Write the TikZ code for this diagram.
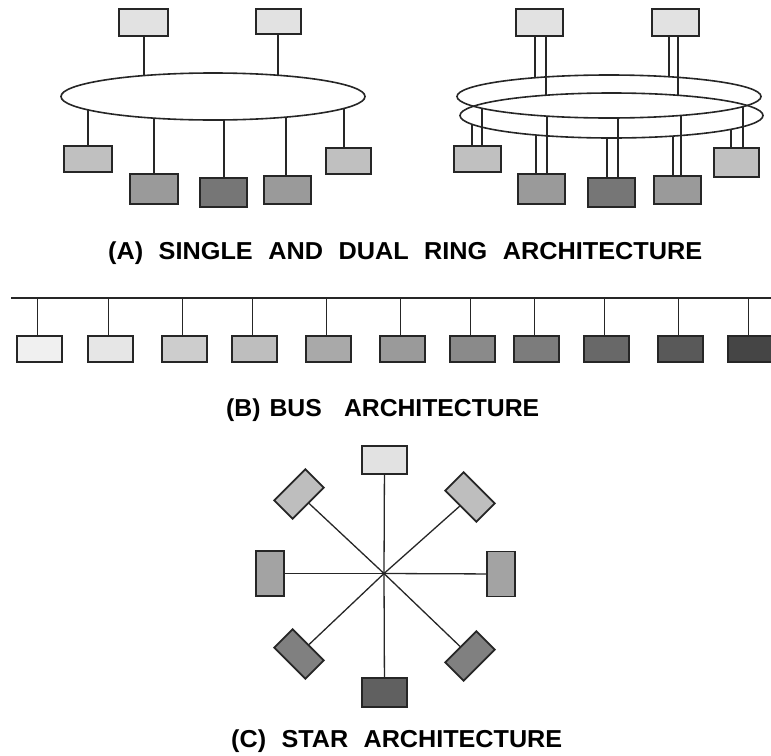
\documentclass[tikz,border=0pt]{standalone}
\usepackage{fontspec}
\setmainfont{Liberation Sans}
\usetikzlibrary{shapes.geometric}
\newcommand{\onring}[6]{\coordinate (#1) at ({#2},{#3+(#4)*sqrt(1-((#2-#5)/(#6))^2)});}
\begin{document}
\begin{tikzpicture}[x=1pt,y=-1pt,
  box/.style={draw=black!85,line width=1.8pt,rectangle,inner sep=0pt,minimum width=47pt,minimum height=27pt},
  wire/.style={draw=black!85,line width=1.6pt},
  ringshape/.style={draw=black!85,line width=1.6pt,ellipse,inner sep=0pt},
  title/.style={inner sep=0pt,anchor=base west,font=\fontsize{24.5}{28}\selectfont\bfseries}]
\useasboundingbox (0,0) rectangle (771,755);
\definecolor{g1}{HTML}{E2E2E2}
\definecolor{g2}{HTML}{C0C0C0}
\definecolor{g3}{HTML}{9A9A9A}
\definecolor{g4}{HTML}{767676}
% ---------- single ring ----------
\node[ringshape,minimum width=304pt,minimum height=47pt] (ringA) at (213,96.5) {};
\node[box,fill=g1,minimum width=49pt,minimum height=27pt] (t1) at (143.5,22.5) {};
\node[box,fill=g1,minimum width=45pt,minimum height=25pt] (t2) at (278.5,21.5) {};
\node[box,fill=g2,minimum width=48pt,minimum height=26pt] (a1) at (88,159) {};
\node[box,fill=g3,minimum width=48pt,minimum height=30pt] (a2) at (154,189) {};
\node[box,fill=g4,minimum width=47pt,minimum height=29pt] (a3) at (223.5,192.5) {};
\node[box,fill=g3,minimum width=47pt,minimum height=28pt] (a4) at (287.5,190) {};
\node[box,fill=g2,minimum width=45pt,minimum height=26pt] (a5) at (348.5,161) {};
\onring{rt1}{144}{96.5}{-23.5}{213}{152}
\onring{rt2}{278}{96.5}{-23.5}{213}{152}
\onring{ra1}{88}{96.5}{23.5}{213}{152}
\onring{ra2}{154}{96.5}{23.5}{213}{152}
\onring{ra3}{224}{96.5}{23.5}{213}{152}
\onring{ra4}{286}{96.5}{23.5}{213}{152}
\onring{ra5}{344}{96.5}{23.5}{213}{152}
\draw[wire] (t1.south -| rt1) -- (rt1);
\draw[wire] (t2.south -| rt2) -- (rt2);
\foreach \i in {1,...,5} {\draw[wire] (ra\i) -- (a\i.north -| ra\i);}
% ---------- dual ring ----------
\node[ringshape,minimum width=304pt,minimum height=43pt] (ringU) at (609,96.5) {};
\node[ringshape,minimum width=303pt,minimum height=45pt] (ringL) at (611.5,115.5) {};
\node[box,fill=g1] (u1) at (539.5,22.5) {};
\node[box,fill=g1] (u2) at (675.5,22.5) {};
\node[box,fill=g2,minimum height=26pt] (c1) at (477.5,159) {};
\node[box,fill=g3,minimum height=30pt] (c2) at (541.5,189) {};
\node[box,fill=g4,minimum height=29pt] (c3) at (611.5,192.5) {};
\node[box,fill=g3,minimum height=28pt] (c4) at (677.5,190) {};
\node[box,fill=g2,minimum width=45pt,minimum height=29pt] (c5) at (736.5,162.5) {};
\onring{pu1a}{535}{96.5}{-21.5}{609}{152}
\onring{pu1b}{546}{115.5}{-22.5}{611.5}{151.5}
\onring{pu2a}{669}{96.5}{-21.5}{609}{152}
\onring{pu2b}{678}{115.5}{-22.5}{611.5}{151.5}
\onring{pc1a}{472}{115.5}{22.5}{611.5}{151.5}
\onring{pc1b}{482}{96.5}{21.5}{609}{152}
\onring{pc2a}{536}{115.5}{22.5}{611.5}{151.5}
\onring{pc2b}{547}{96.5}{21.5}{609}{152}
\onring{pc3a}{607}{115.5}{22.5}{611.5}{151.5}
\onring{pc3b}{618}{96.5}{21.5}{609}{152}
\onring{pc4a}{673}{115.5}{22.5}{611.5}{151.5}
\onring{pc4b}{681}{96.5}{21.5}{609}{152}
\onring{pc5a}{731}{115.5}{22.5}{611.5}{151.5}
\onring{pc5b}{743}{96.5}{21.5}{609}{152}
\foreach \i in {1,2} {
  \draw[wire] (u\i.south -| pu\i a) -- (pu\i a);
  \draw[wire] (u\i.south -| pu\i b) -- (pu\i b);}
\foreach \i in {1,...,5} {
  \draw[wire] (pc\i a) -- (c\i.north -| pc\i a);
  \draw[wire] (pc\i b) -- (c\i.north -| pc\i b);}
\node[title] (titleA) at (108,259) {\resizebox{594pt}{\height}{(A)\hspace{15pt}SINGLE\hspace{15pt}AND\hspace{15pt}DUAL\hspace{15pt}RING\hspace{15pt}ARCHITECTURE}};
% ---------- bus ----------
\coordinate (busL) at (11,298);
\coordinate (busR) at (771,298);
\draw[wire] (busL) -- (busR);
\foreach \i/\xl/\col in {1/17/F0F0F0,2/88/E6E6E6,3/162/CDCDCD,4/232/BEBEBE,5/306/A9A9A9,6/380/9A9A9A,7/450/8A8A8A,8/514/7C7C7C,9/584/686868,10/658/595959,11/728/454545} {
  \definecolor{bc}{HTML}{\col}
  \node[box,fill=bc,minimum width=45pt,minimum height=26pt] (bus\i) at (\xl+22.5,349) {};
  \draw[wire] ([xshift=-2pt]bus\i.north) -- ([xshift=-2pt]bus\i.north |- busL);
}
\node[title] (titleB) at (226,416) {\resizebox{313pt}{\height}{(B)\hspace{9pt}BUS\hspace{22pt}ARCHITECTURE}};
% ---------- star ----------
\definecolor{s1}{HTML}{E2E2E2}
\definecolor{s2}{HTML}{BEBEBE}
\definecolor{s3}{HTML}{A3A3A3}
\definecolor{s4}{HTML}{808080}
\definecolor{s5}{HTML}{606060}
\coordinate (hub) at (384,573.5);
\node[box,fill=s1,minimum width=45pt,minimum height=28pt] (stop) at (384.5,460) {};
\node[box,fill=s5,minimum width=45pt,minimum height=29pt] (sbot) at (384.5,692.5) {};
\node[box,fill=s3,minimum width=45pt,minimum height=28pt,rotate=90] (sleft) at (270,573.5) {};
\node[box,fill=s3,minimum width=45pt,minimum height=28pt,rotate=90] (sright) at (501,574) {};
\node[box,fill=s2,minimum width=44pt,minimum height=26pt,rotate=45] (sul) at (299,494) {};
\node[box,fill=s2,minimum width=44pt,minimum height=26pt,rotate=-45] (sur) at (470,497) {};
\node[box,fill=s4,minimum width=44pt,minimum height=26pt,rotate=-45] (sll) at (299,654) {};
\node[box,fill=s4,minimum width=44pt,minimum height=26pt,rotate=45] (slr) at (470,656) {};
\foreach \n in {stop,sbot,sleft,sright,sul,sur,sll,slr} {\draw[wire,line width=1.3pt] (hub) -- (\n);}
\node[title] (titleC) at (231,747) {\resizebox{331pt}{\height}{(C)\hspace{15pt}STAR\hspace{15pt}ARCHITECTURE}};
\end{tikzpicture}
\end{document}
